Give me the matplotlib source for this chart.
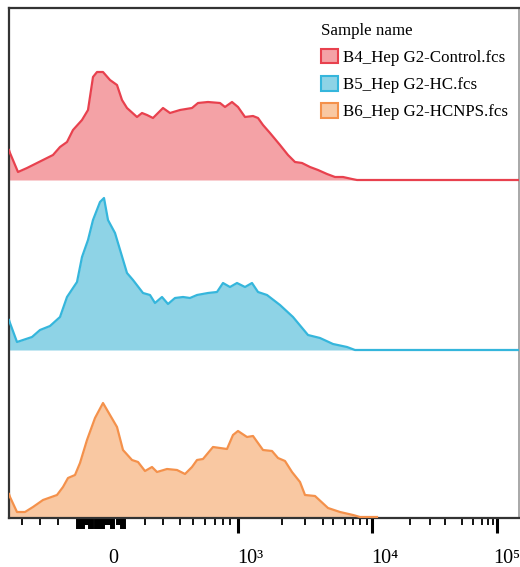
import matplotlib
matplotlib.use("Agg")
import matplotlib.pyplot as plt
from matplotlib.patches import Patch

# x is in display channels of the biexponential axis (0..510), y is counts
red_x = [0, 1, 9, 18, 24, 34, 44, 51, 58, 64, 73, 79, 84, 88, 94, 101, 108, 113, 118,
         128, 133, 138, 144, 154, 161, 171, 183, 189, 199, 211, 216, 223, 229, 236, 244,
         249, 254, 261, 271, 279, 286, 293, 301, 309, 318, 326, 334, 343, 348, 510]
red_y = [30, 27, 8, 12, 15, 20, 25, 33, 38, 50, 60, 70, 103, 108, 108, 100, 95, 80, 72,
         63, 67, 65, 62, 72, 67, 70, 72, 77, 78, 77, 73, 78, 73, 63, 64,
         62, 55, 47, 35, 25, 18, 17, 13, 10, 6, 3, 3, 1, 0, 0]

blue_x = [0, 1, 8, 14, 23, 31, 41, 51, 58, 68, 73, 79, 84, 91, 95, 99, 106, 118, 124,
          134, 141, 146, 153, 159, 166, 174, 181, 188, 199, 208, 214, 221, 228, 236, 243,
          249, 258, 271, 284, 299, 311, 324, 338, 346, 510]
blue_y = [30, 27, 8, 10, 13, 20, 24, 33, 53, 68, 93, 110, 130, 148, 152, 130, 117, 77, 70,
          57, 55, 47, 53, 46, 52, 53, 52, 55, 57, 58, 67, 63, 67, 63, 67,
          58, 55, 45, 33, 15, 12, 6, 3, 0, 0]

orange_x = [0, 1, 8, 16, 24, 34, 48, 54, 59, 66, 71, 78, 86, 94, 101, 108, 114, 123, 129,
            136, 143, 148, 158, 168, 176, 183, 188, 194, 204, 211, 218, 224, 229, 238, 244,
            254, 263, 269, 276, 283, 291, 296, 306, 319, 331, 344, 351, 368]
orange_y = [24, 21, 6, 6, 11, 18, 23, 31, 40, 43, 55, 78, 100, 115, 103, 91, 68, 58, 56,
            47, 51, 46, 49, 48, 44, 51, 58, 59, 71, 70, 69, 83, 87, 81, 82,
            68, 67, 60, 57, 46, 36, 23, 22, 10, 6, 3, 1, 1]

names = ["B4_Hep G2-Control.fcs", "B5_Hep G2-HC.fcs", "B6_Hep G2-HCNPS.fcs"]
line_colors = ["#E8414E", "#35B6DC", "#F4914B"]
fill_colors = ["#F4A2A6", "#8ED3E6", "#F9C8A2"]
offsets = [338, 168, 0]

tick_labels = ["0", "10³", "10⁴", "10⁵"]
label_pos = [104, 241, 376, 498]
decade_ticks = [229, 363, 488]
minor_ticks = [13, 31, 49,
               136, 154, 171, 184, 196, 206, 214, 221,
               273, 296, 314, 324, 336, 344, 351, 358,
               401, 421, 436, 453, 464, 473, 479, 484]
# dense linear-region ticks around zero
zero_tall = list(range(68, 76)) + list(range(80, 85)) + list(range(86, 96)) + \
    list(range(102, 106)) + list(range(112, 117))
zero_short = list(range(76, 80)) + list(range(96, 102)) + list(range(108, 112))

serif = ["Liberation Serif", "DejaVu Serif"]

fig = plt.figure(figsize=(5.2, 5.67), dpi=100)
ax = fig.add_axes([9 / 520, 49 / 567, 510 / 520, 510 / 567])

curves = [(red_x, red_y), (blue_x, blue_y), (orange_x, orange_y)]
for (xs, ys), off, lc, fc in zip(curves, offsets, line_colors, fill_colors):
    top = [off + v for v in ys]
    ax.fill_between(xs, off, top, color=fc, lw=0, zorder=2)
    ax.plot(xs, top, color=lc, lw=1.6, zorder=3, solid_joinstyle="round")

ax.set_xlim(0, 510)
ax.set_ylim(0, 510)
ax.set_yticks([])

ax.set_xticks(label_pos, tick_labels, family=serif, fontsize=14.5)
ax.tick_params(axis="x", length=0, pad=22)

xt = ax.get_xaxis_transform()
ax.vlines(decade_ticks, -0.029, 0, transform=xt, color="black", lw=2.2, clip_on=False)
ax.vlines(minor_ticks, -0.014, 0, transform=xt, color="black", lw=1.3, clip_on=False)
ax.vlines(zero_tall, -0.022, 0, transform=xt, color="black", lw=1.4, clip_on=False)
ax.vlines(zero_short, -0.014, 0, transform=xt, color="black", lw=1.4, clip_on=False)

for side in ["left", "top", "bottom"]:
    ax.spines[side].set_color("#333333")
    ax.spines[side].set_linewidth(1.6)
ax.spines["right"].set_color("#999999")
ax.spines["right"].set_linewidth(1.2)

handles = [Patch(facecolor=fc, edgecolor=lc, lw=1.5) for lc, fc in zip(line_colors, fill_colors)]
leg = ax.legend(handles, names, title="Sample name", loc="upper left",
                bbox_to_anchor=(0.596, 0.988), frameon=False, borderpad=0,
                handlelength=0.95, handleheight=0.95, handletextpad=0.35,
                labelspacing=0.6, alignment="left",
                prop={"family": serif, "size": 12.2},
                title_fontproperties={"family": serif, "size": 12.2})

fig.savefig("out.png", dpi=100)
